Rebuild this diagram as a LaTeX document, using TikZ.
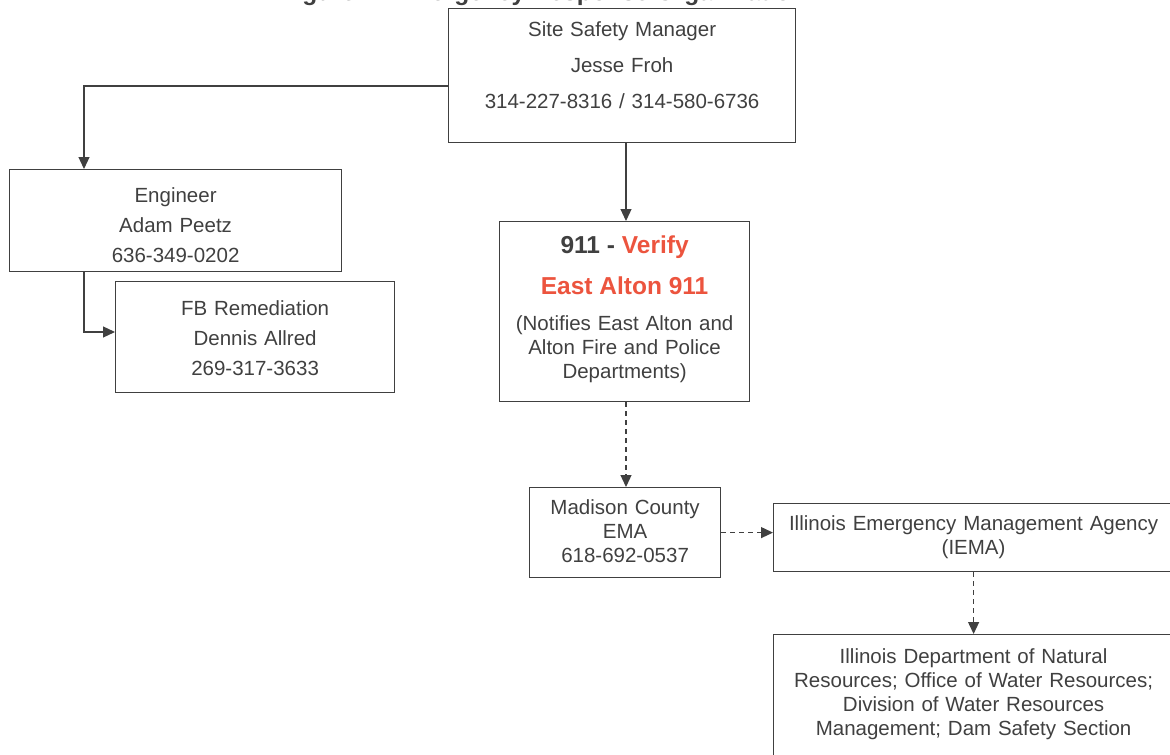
\documentclass[tikz,border=0pt]{standalone}
\usepackage{fontspec}
\setmainfont{Liberation Sans}
\usepackage{tikz}
\usetikzlibrary{arrows.meta,positioning,calc}
\definecolor{linegray}{RGB}{64,64,64}
\definecolor{txtgray}{RGB}{64,64,64}
\definecolor{alertred}{RGB}{236,84,62}
\tikzset{
    box/.style={
        rectangle,
        draw=linegray,
        line width=1.2pt,
        inner sep=0pt,
        align=center,
        text=txtgray,
        font=\fontsize{20.5}{24}\selectfont,
        anchor=north west,
    },
    heading/.style={
        font=\bfseries\fontsize{24.5}{24}\selectfont,
    },
    conn/.style={
        draw=linegray,
        line width=1.2pt,
        -{Triangle[length=12pt,width=11pt]},
    },
    dashconn/.style={
        conn,
        dash pattern=on 5pt off 4pt,
    },
  }

\begin{document}
\begin{tikzpicture}[x=1pt,y=-1pt]
              \useasboundingbox (0,0) rectangle (1170,755);
              \clip (0,0) rectangle (1170,755);

              \node [heading,text=txtgray,anchor=base west] (ttl) at (277,0.5) {Figure 1: Emergency Response Organization};

              \node [box,text width=347pt,text height=28pt,text depth=106pt] (ssm) at (448,8)
                    {Site Safety Manager\\[12pt] Jesse Froh\\[12pt] 314-227-8316 / 314-580-6736};
              \node [box,text width=332pt,text height=33pt,text depth=69pt] (eng) at (9,169)
                    {Engineer\\[6pt] Adam Peetz\\[6pt] 636-349-0202};
              \node [box,text width=279pt,text height=34pt,text depth=77pt] (fb) at (115,281)
                    {FB Remediation\\[6pt] Dennis Allred\\[6pt] 269-317-3633};
              \node [box,text width=250pt,text height=32pt,text depth=148pt] (nine) at (499,221)
                    {{\bfseries\fontsize{24.5}{24}\selectfont 911 - \textcolor{alertred}{Verify}}\\[17pt]
                     {\bfseries\fontsize{24.5}{24}\selectfont\color{alertred} East Alton 911}\\[12pt]
                     (Notifies East Alton and\\ Alton Fire and Police\\ Departments)};
              \node [box,text width=191pt,text height=27pt,text depth=63pt] (mad) at (529,487)
                    {Madison County\\ EMA\\ 618-692-0537};
              \node [box,text width=400pt,text height=27pt,text depth=41pt] (iema) at (773,503)
                    {Illinois Emergency Management Agency\\ (IEMA)};
              \node [box,text width=400pt,text height=29pt,text depth=160pt] (idnr) at (773,634)
                    {Illinois Department of Natural\\ Resources; Office of Water Resources;\\
                     Division of Water Resources\\ Management; Dam Safety Section};

              \draw [conn] (ssm.west |- 0,86) -| (eng.north -| 84,0);
              \draw [conn] (ssm.south -| 626,0) -- (nine.north -| 626,0);
              \draw [conn] (eng.south -| 84,0) |- (fb.west |- 0,332);
              \draw [dashconn] (nine.south -| 626,0) -- (mad.north -| 626,0);
              \draw [dashconn] (mad.east) -- (iema.west |- mad.east);
              \draw [dashconn] (iema.south) -- (idnr.north);

            \end{tikzpicture}
\end{document}
